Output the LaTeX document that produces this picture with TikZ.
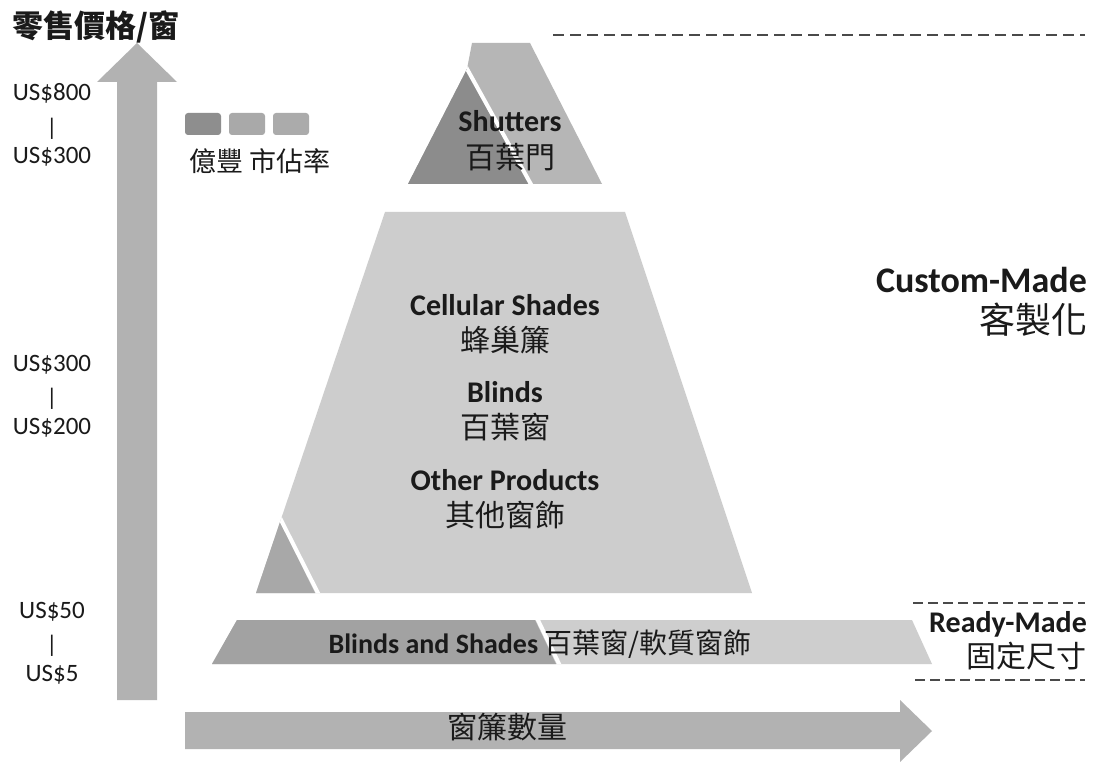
\documentclass[tikz,border=0pt]{standalone}
\usepackage{fontspec}
\setmainfont{Carlito}
\newfontfamily\cjk{Noto Sans CJK TC}
\newcommand\myfs[1]{\fontsize{#1}{#1}\selectfont}
\definecolor{ink}{HTML}{1A1A1A}
\definecolor{arrowgray}{HTML}{B2B2B2}
\definecolor{shutlight}{HTML}{B6B6B6}
\definecolor{shutdark}{HTML}{8C8C8C}
\definecolor{midlight}{HTML}{CDCDCD}
\definecolor{middark}{HTML}{A8A8A8}
\definecolor{bandlight}{HTML}{CECECE}
\definecolor{banddark}{HTML}{A2A2A2}
\definecolor{legA}{HTML}{8E8E8E}
\definecolor{legB}{HTML}{A9A9A9}
\definecolor{legC}{HTML}{ABABAB}
\definecolor{dashgray}{HTML}{4A4A4A}
\begin{document}
\begin{tikzpicture}[x=1pt,y=-1pt,
  lbl/.style={inner sep=0pt, text=ink},
  en/.style={lbl, font={\bfseries\myfs{30}}},
  zh/.style={lbl, font={\cjk\myfs{30}}},
  price/.style={lbl, font={\myfs{25}}, anchor=base},
  pbar/.style={lbl, font={\myfs{24}}},
  cutline/.style={white, line width=4pt},
  dashline/.style={dashgray, line width=1.8pt, dash pattern=on 11pt off 6pt},
  dashshort/.style={dashgray, line width=1.8pt, dash pattern=on 10pt off 5pt},
  legbox/.style={rounded corners=3pt}]
\useasboundingbox (0,0) rectangle (1095,762);
\fill[white] (0,0) rectangle (1095,762);

% axes arrows
\fill[arrowgray] (117,700) -- (117,82) -- (97,82) -- (137,43) -- (177,82) -- (157,82) -- (157,700) -- cycle;
\fill[arrowgray] (185,712) -- (900,712) -- (900,700) -- (932,731) -- (900,762) -- (900,749) -- (185,749) -- cycle;

% shutters
\fill[shutlight] (472,43) -- (530,43) -- (602,184) -- (408,184) -- (467,69) -- cycle;
\fill[shutdark] (408,184) -- (467,69) -- (529,184) -- cycle;
\begin{scope}
  \clip (472,43) -- (530,43) -- (602,184) -- (408,184) -- (467,69) -- cycle;
  \draw[cutline] (461,58) -- (538,197);
\end{scope}

% middle trapezoid
\fill[midlight] (385,212) -- (625,212) -- (752,593) -- (256,593) -- cycle;
\fill[middark] (256,593) -- (280,522) -- (315,593) -- cycle;
\begin{scope}
  \clip (385,212) -- (625,212) -- (752,593) -- (256,593) -- cycle;
  \draw[cutline] (277,512) -- (322,601);
\end{scope}

% ready-made band
\fill[bandlight] (237,620) -- (912,620) -- (932,664) -- (212,664) -- cycle;
\fill[banddark] (237,620) -- (535,620) -- (556,664) -- (212,664) -- cycle;
\begin{scope}
  \clip (237,620) -- (912,620) -- (932,664) -- (212,664) -- cycle;
  \draw[cutline] (536,616) -- (561,668);
\end{scope}

% legend
\fill[legA, legbox] (185,113) rectangle (221,135);
\fill[legB, legbox] (229,113) rectangle (265,135);
\fill[legC, legbox] (273,113) rectangle (309,135);
\node[lbl, anchor=west, font={\cjk\myfs{27}}] (legtxt) at (189,161) {億豐 市佔率};

% title
\node[lbl, anchor=west, font={\cjk\bfseries\myfs{31}}] (title) at (12,27) {零售價格/窗};

% price labels
\node[price] (p800) at (52,101) {US\$800};
\node[pbar] (bar1) at (52,129) {|};
\node[price] (p300a) at (52,164) {US\$300};
\node[price] (p300b) at (52,371) {US\$300};
\node[pbar] (bar2) at (52,399) {|};
\node[price] (p200) at (52,434) {US\$200};
\node[price] (p50) at (52,618) {US\$50};
\node[pbar] (bar3) at (52,646) {|};
\node[price] (p5) at (52,681) {US\$5};

% product labels
\node[en, anchor=base] (shut) at (510,132) {Shutters};
\node[zh] (shutzh) at (510,157) {百葉門};
\node[en, anchor=base] (cell) at (505,315) {Cellular Shades};
\node[zh] (cellzh) at (505,340) {蜂巢簾};
\node[en, anchor=base] (blinds) at (505,402) {Blinds};
\node[zh] (blindszh) at (505,427) {百葉窗};
\node[en, anchor=base] (other) at (505,490) {Other Products};
\node[zh] (otherzh) at (505,515) {其他窗飾};
\node[lbl, anchor=base, font={\bfseries\myfs{28}}] (band) at (540,653) {Blinds and Shades {\cjk\mdseries 百葉窗/軟質窗飾}};

% right side labels
\node[lbl, anchor=base east, font={\bfseries\myfs{36}}] (custom) at (1087,292) {Custom-Made};
\node[lbl, anchor=east, font={\cjk\myfs{36}}] (customzh) at (1088,320) {客製化};
\node[en, anchor=base east] (ready) at (1087,632) {Ready-Made};
\node[zh, anchor=east] (readyzh) at (1087,656) {固定尺寸};

% x-axis label
\node[zh] (qty) at (507,727) {窗簾數量};

% dashed separators
\coordinate (d1a) at (553,35);
\coordinate (d1b) at (1085,35);
\coordinate (d2a) at (913,603);
\coordinate (d2b) at (1085,603);
\coordinate (d3a) at (915,680);
\coordinate (d3b) at (1085,680);
\draw[dashline] (d1a) -- (d1b);
\draw[dashshort] (d2a) -- (d2b);
\draw[dashshort] (d3a) -- (d3b);
\end{tikzpicture}
\end{document}
